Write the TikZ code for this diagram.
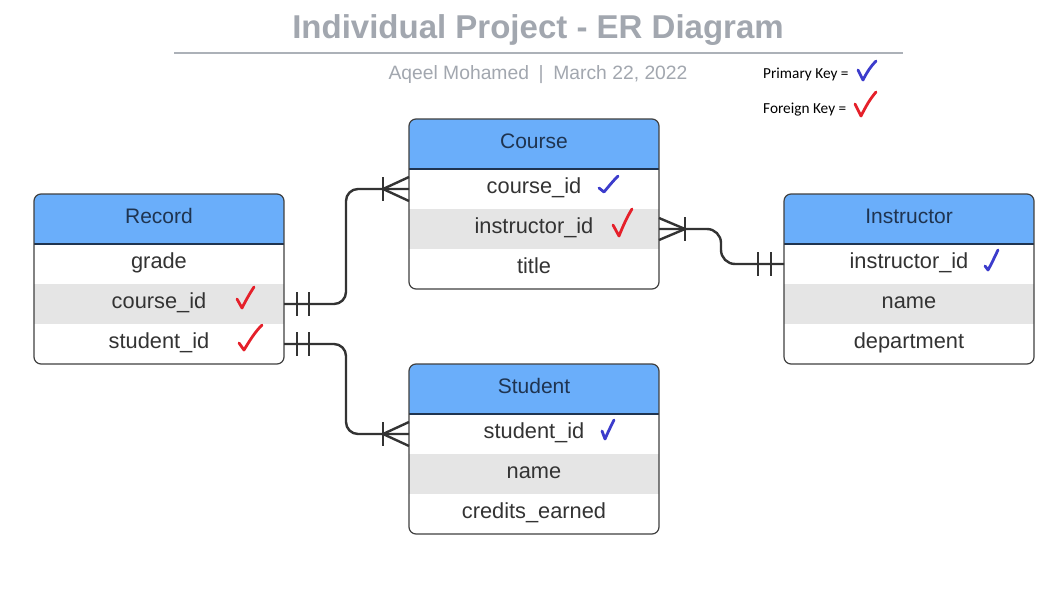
\documentclass[tikz,border=0pt]{standalone}
\usepackage{fontspec}
\setmainfont{Liberation Sans}
\newfontfamily\legfont{Carlito}
\definecolor{hdrblue}{HTML}{6AAEFA}
\definecolor{rowgray}{HTML}{E5E5E5}
\definecolor{hdrtext}{HTML}{1F3450}
\definecolor{rowtext}{HTML}{333333}
\definecolor{titlegray}{HTML}{A2A7AF}
\definecolor{linegray}{HTML}{ACB1B8}
\definecolor{relcol}{HTML}{333333}
\definecolor{pkblue}{HTML}{3C3CCC}
\definecolor{fkred}{HTML}{E5202A}
\tikzset{
  hdr/.style={minimum width=250pt, minimum height=50pt, inner sep=0pt, outer sep=0pt,
    text height=16pt, text depth=8pt, text=hdrtext, font=\fontsize{21}{25}\selectfont},
  tblrow/.style={minimum width=250pt, minimum height=40pt, inner sep=0pt, outer sep=0pt,
    text height=16pt, text depth=8pt, text=rowtext, font=\fontsize{21.8}{25}\selectfont},
  hdrline/.style={draw=hdrtext, line width=1.8pt},
  tblborder/.style={draw=black!75, line width=1.2pt},
  rel/.style={draw=relcol, line width=2.4pt, line cap=butt},
  relpath/.style={rel, rounded corners=12pt},
  chk/.style={line width=2.8pt, line cap=round, line join=round},
  pk/.style={chk, draw=pkblue},
  fk/.style={chk, draw=fkred},
  legtext/.style={anchor=base west, inner sep=0pt, font=\legfont\fontsize{15.3}{18}\selectfont, text=black}
}
\newcommand\ertable[7]{%
  \fill[white, rounded corners=7pt] (#2,#3) rectangle ++(250,170);
  \begin{scope}
    \clip[rounded corners=7pt] (#2,#3) rectangle ++(250,170);
    \fill[hdrblue] (#2,#3) rectangle ++(250,50);
    \fill[rowgray] (#2,{#3+90}) rectangle ++(250,40);
  \end{scope}
  \node[hdr] (#1-h) at ({#2+125},{#3+25}) {#4};
  \node[tblrow] (#1-1) at ({#2+125},{#3+70}) {#5};
  \node[tblrow] (#1-2) at ({#2+125},{#3+110}) {#6};
  \node[tblrow] (#1-3) at ({#2+125},{#3+150}) {#7};
  \draw[hdrline] (#2,{#3+50}) -- ++(250,0);
  \draw[tblborder, rounded corners=7pt] (#2,#3) rectangle ++(250,170);
}
\begin{document}
\begin{tikzpicture}[x=1pt, y=-1pt]
\useasboundingbox[fill=white] (0,0) rectangle (1064,610);

% title
\node[anchor=base, inner sep=0pt, text=titlegray, font=\bfseries\fontsize{33}{38}\selectfont] (title) at (538,39) {Individual Project - ER Diagram};
\draw[draw=linegray, line width=1.8pt] (174,53) -- (903,53);
\node[anchor=base, inner sep=0pt, text=titlegray, font=\fontsize{19.3}{23}\selectfont] (subtitle) at (538,79) {Aqeel Mohamed\enspace|\enspace March 22, 2022};

% legend
\node[legtext] (pklab) at (763,78) {Primary Key =};
\node[legtext] (fklab) at (763,113) {Foreign Key =};
\draw[pk] (858,70) -- (863,80) .. controls (867,72) and (871,66) .. (876,61);
\draw[fk] (855,104) -- (861,116) .. controls (866,106) and (870,99) .. (876,92);

% tables
\ertable{rec}{34}{194}{Record}{grade}{course\_id}{student\_id}
\ertable{crs}{409}{119}{Course}{course\_id}{instructor\_id}{title}
\ertable{ins}{784}{194}{Instructor}{instructor\_id}{name}{department}
\ertable{stu}{409}{364}{Student}{student\_id}{name}{credits\_earned}

% check marks
\draw[pk] (599,188) -- (604,192) .. controls (609,186) and (613,181) .. (618,176);
\draw[fk] (613,225) -- (619,236) .. controls (623,226) and (627,217) .. (632,209);
\draw[fk] (237,299) -- (242,308) .. controls (246,300) and (250,293) .. (254,287);
\draw[fk] (239,343) -- (244,350) .. controls (250,340) and (255,332) .. (262,325);
\draw[pk] (985,266) -- (988,270) .. controls (992,263) and (995,256) .. (998,250);
\draw[pk] (602,431) -- (605,439) .. controls (608,432) and (611,426) .. (614,420);

% relationships
\draw[relpath] (rec-2.east) -- ++(62,0) |- (crs-1.west);
\draw[relpath] (rec-3.east) -- ++(62,0) |- (stu-1.west);
\draw[rel, rounded corners=14pt] (crs-2.east) -- ++(62,0) |- (ins-1.west);

% one-and-only-one bars (Record side)
\foreach \n in {rec-2, rec-3}{
  \draw[rel] ([xshift=13pt]\n.east) ++(0,-12) -- ++(0,24);
  \draw[rel] ([xshift=25pt]\n.east) ++(0,-12) -- ++(0,24);
}
% one-and-only-one bars (Instructor side)
\draw[rel] ([xshift=-13pt]ins-1.west) ++(0,-12) -- ++(0,24);
\draw[rel] ([xshift=-26pt]ins-1.west) ++(0,-12) -- ++(0,24);

% crow's feet (many side)
\foreach \n in {crs-1, stu-1}{
  \draw[rel] ([xshift=-26pt]\n.west) ++(0,-12) -- ++(0,24);
  \draw[rel] ([xshift=-26pt]\n.west) -- ([yshift=12pt]\n.west);
  \draw[rel] ([xshift=-26pt]\n.west) -- ([yshift=-12pt]\n.west);
}
\draw[rel] ([xshift=26pt]crs-2.east) ++(0,-12) -- ++(0,24);
\draw[rel] ([xshift=26pt]crs-2.east) -- ([yshift=11pt]crs-2.east);
\draw[rel] ([xshift=26pt]crs-2.east) -- ([yshift=-11pt]crs-2.east);
\end{tikzpicture}
\end{document}
